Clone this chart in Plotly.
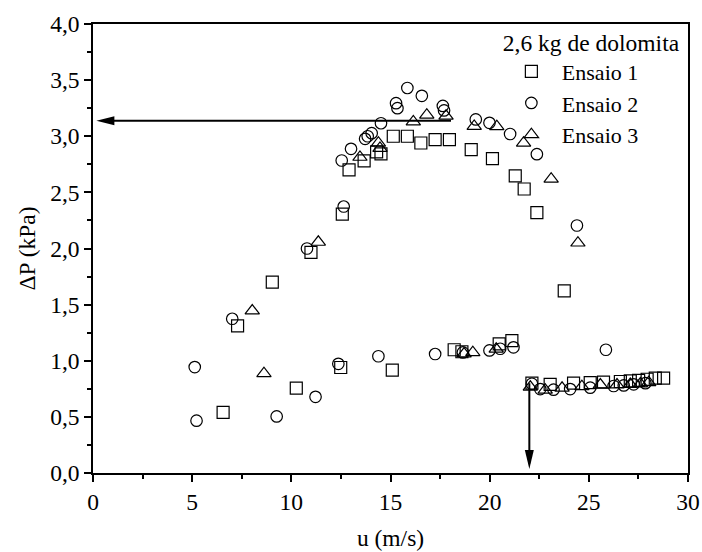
import plotly.graph_objects as go

# ---------------- data ----------------
legend_title = "2,6 kg de dolomita"
series_names = ["Ensaio 1", "Ensaio 2", "Ensaio 3"]

u_ens1 = [6.56, 7.29, 9.04, 10.25, 10.99, 12.49, 12.57, 12.91, 13.67, 14.30, 14.52,
          15.09, 15.14, 15.85, 16.53, 17.25, 17.97, 18.21, 18.60, 19.07, 20.14, 20.48,
          21.12, 21.29, 21.74, 22.13, 22.38, 23.05, 23.76, 24.23, 25.07, 25.74, 26.59,
          27.09, 27.51, 27.94, 28.35, 28.77]
dp_ens1 = [0.54, 1.31, 1.70, 0.757, 1.965, 0.94, 2.306, 2.70, 2.78, 2.86, 2.843,
           0.917, 3.00, 3.00, 2.94, 2.97, 2.97, 1.098, 1.08, 2.88, 2.80, 1.151,
           1.18, 2.647, 2.53, 0.80, 2.32, 0.79, 1.623, 0.80, 0.805, 0.81, 0.815,
           0.82, 0.825, 0.835, 0.845, 0.846]

u_ens2 = [5.13, 5.22, 7.02, 9.26, 10.79, 11.22, 12.37, 12.54, 12.64, 13.01, 13.72,
          13.85, 14.05, 14.39, 14.52, 15.28, 15.35, 15.85, 16.58, 17.25, 17.64, 17.70,
          18.65, 19.30, 19.99, 19.99, 20.53, 21.03, 21.20, 22.13, 22.38, 22.55, 23.22,
          24.06, 24.40, 25.07, 25.86, 26.25, 26.76, 27.26, 27.85]
dp_ens2 = [0.944, 0.466, 1.374, 0.504, 2.00, 0.679, 0.973, 2.784, 2.374, 2.888, 2.977,
           3.00, 3.027, 1.04, 3.116, 3.295, 3.25, 3.43, 3.36, 1.06, 3.27, 3.23,
           1.074, 3.15, 3.12, 1.092, 1.107, 3.02, 1.12, 0.795, 2.84, 0.748, 0.742,
           0.748, 2.205, 0.76, 1.098, 0.775, 0.78, 0.79, 0.80]

u_ens3 = [8.03, 8.62, 11.36, 13.46, 14.39, 14.47, 16.15, 16.83, 17.80, 18.71, 19.15,
          19.22, 20.33, 20.36, 21.71, 22.05, 22.80, 23.10, 23.65, 24.45, 24.65, 25.58,
          26.42, 27.09, 27.60, 28.02]
dp_ens3 = [1.445, 0.887, 2.057, 2.814, 2.94, 2.894, 3.13, 3.19, 3.18, 1.062, 1.074,
           3.09, 1.104, 3.087, 2.94, 0.766, 0.74, 2.62, 0.757, 2.05, 0.771, 0.786,
           0.786, 0.79, 0.795, 0.807]

# arrows (data coordinates): horizontal one points to the axis, vertical one down
h_arrow_x = [18.05, 0.17]   # tail, tip
h_arrow_y = 3.137
v_arrow_x = 22.0
v_arrow_y = [0.80, 0.035]   # tail, tip

x_range = [0, 30]
y_range = [0, 4]

# ---------------- figure ----------------
FONT = "Liberation Serif"
FS = 23.5
fig = go.Figure()

symbols = ["square-open", "circle-open", "triangle-up-open"]
sizes = [12, 11.5, 12.5]
data = [(u_ens1, dp_ens1), (u_ens2, dp_ens2), (u_ens3, dp_ens3)]
for name, (u, dp), sym, sz in zip(series_names, data, symbols, sizes):
    fig.add_trace(go.Scatter(
        x=u, y=dp, mode="markers", name=name,
        marker=dict(symbol=sym, size=sz, color="black", line=dict(width=1.2, color="black")),
    ))

shapes = [
    dict(type="line", xref="x", yref="y", x0=h_arrow_x[0], x1=h_arrow_x[1] + 0.4,
         y0=h_arrow_y, y1=h_arrow_y, line=dict(color="black", width=2)),
    dict(type="path", xref="x", yref="y", xsizemode="pixel", ysizemode="pixel",
         xanchor=h_arrow_x[1], yanchor=h_arrow_y,
         path="M0,0 L18,-4.5 L18,4.5 Z", fillcolor="black", line=dict(width=0)),
    dict(type="line", xref="x", yref="y", x0=v_arrow_x, x1=v_arrow_x,
         y0=v_arrow_y[0], y1=v_arrow_y[1] + 0.05, line=dict(color="black", width=2)),
    dict(type="path", xref="x", yref="y", xsizemode="pixel", ysizemode="pixel",
         xanchor=v_arrow_x, yanchor=v_arrow_y[1],
         path="M0,0 L-4.5,19 L4.5,19 Z", fillcolor="black", line=dict(width=0)),
]

axis_common = dict(
    showline=True, linecolor="black", linewidth=1.5, mirror=True,
    ticks="outside", ticklen=7, tickwidth=1.5, tickcolor="black",
    showgrid=False, zeroline=False, automargin=False,
    tickfont=dict(family=FONT, size=FS, color="black"),
)

fig.update_layout(
    width=702, height=552,
    margin=dict(l=93, r=14, t=24, b=79, autoexpand=False),
    paper_bgcolor="white", plot_bgcolor="white",
    separators=",.",
    font=dict(family=FONT, size=FS, color="black"),
    shapes=shapes,
    xaxis=dict(range=x_range, dtick=5, tick0=0,
               minor=dict(dtick=2.5, ticks="outside", ticklen=4, tickwidth=1.5, tickcolor="black"),
               title=dict(text="u (m/s)", font=dict(family=FONT, size=FS), standoff=16),
               **axis_common),
    yaxis=dict(range=y_range, dtick=0.5, tick0=0, tickformat=".1f",
               minor=dict(dtick=0.25, ticks="outside", ticklen=4, tickwidth=1.5, tickcolor="black"),
               title=dict(text="ΔP (kPa)", font=dict(family=FONT, size=FS), standoff=8),
               **axis_common),
    showlegend=True,
    legend=dict(
        title=dict(text=legend_title, font=dict(family=FONT, size=FS)),
        x=0.6855, xanchor="left", y=1.009, yanchor="top",
        bgcolor="rgba(0,0,0,0)", borderwidth=0,
        font=dict(family=FONT, size=22, color="black"),
        itemwidth=51, tracegroupgap=0,
    ),
)

fig.write_html("out.html")
